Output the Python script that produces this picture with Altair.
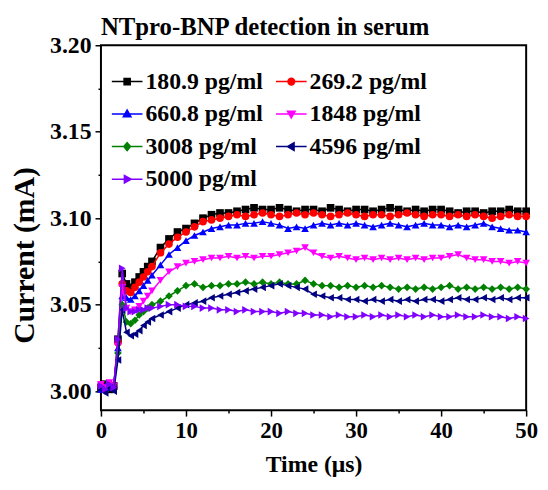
import altair as alt
import pandas as pd

time_us = [0, 0.5, 1, 1.5, 2, 2.5, 3, 3.5, 4, 4.5, 5, 5.5, 6,
           7, 8, 9, 10, 11, 12, 13, 14, 15, 16, 17, 18, 19, 20,
           21, 22, 23, 24, 25, 26, 27, 28, 29, 30, 31, 32, 33, 34, 35,
           36, 37, 38, 39, 40, 41, 42, 43, 44, 45, 46, 47, 48, 49, 50]

series_names = ["180.9 pg/ml", "269.2 pg/ml", "660.8 pg/ml", "1848 pg/ml",
                "3008 pg/ml", "4596 pg/ml", "5000 pg/ml"]

s_180 = [3.002, 3.004, 3.001, 3.003, 3.030, 3.068, 3.062, 3.060, 3.063, 3.066, 3.069, 3.072, 3.075,
         3.083, 3.088, 3.092, 3.094, 3.097, 3.100, 3.102, 3.103, 3.103, 3.104, 3.105, 3.106, 3.105, 3.105,
         3.106, 3.105, 3.104, 3.105, 3.105, 3.104, 3.106, 3.105, 3.104, 3.105, 3.105, 3.104, 3.105, 3.106, 3.105,
         3.104, 3.105, 3.104, 3.105, 3.105, 3.104, 3.103, 3.104, 3.104, 3.103, 3.104, 3.104, 3.105, 3.104, 3.104]
s_269 = [3.003, 3.001, 3.004, 3.002, 3.028, 3.062, 3.058, 3.057, 3.060, 3.063, 3.066, 3.069, 3.072,
         3.080, 3.085, 3.089, 3.092, 3.095, 3.098, 3.099, 3.100, 3.101, 3.102, 3.101, 3.102, 3.103, 3.102,
         3.101, 3.102, 3.103, 3.102, 3.103, 3.102, 3.101, 3.102, 3.103, 3.102, 3.101, 3.102, 3.102, 3.101, 3.102,
         3.103, 3.102, 3.101, 3.102, 3.102, 3.101, 3.102, 3.101, 3.102, 3.101, 3.100, 3.101, 3.102, 3.101, 3.101]
s_660 = [3.001, 3.003, 3.002, 3.004, 3.025, 3.055, 3.054, 3.053, 3.055, 3.058, 3.061, 3.064, 3.067,
         3.073, 3.079, 3.083, 3.087, 3.090, 3.092, 3.094, 3.095, 3.096, 3.096, 3.097, 3.097, 3.098, 3.097,
         3.096, 3.094, 3.095, 3.094, 3.096, 3.097, 3.096, 3.097, 3.096, 3.097, 3.096, 3.095, 3.096, 3.097, 3.096,
         3.095, 3.096, 3.097, 3.096, 3.096, 3.095, 3.096, 3.095, 3.096, 3.097, 3.095, 3.094, 3.093, 3.093, 3.092]
s_1848 = [3.004, 3.002, 3.005, 3.003, 3.026, 3.060, 3.048, 3.046, 3.047, 3.049, 3.052, 3.055, 3.058,
          3.064, 3.069, 3.072, 3.074, 3.075, 3.076, 3.077, 3.077, 3.078, 3.077, 3.078, 3.077, 3.078, 3.078,
          3.079, 3.080, 3.081, 3.083, 3.080, 3.078, 3.077, 3.078, 3.077, 3.076, 3.077, 3.076, 3.077, 3.076, 3.077,
          3.076, 3.077, 3.076, 3.077, 3.077, 3.078, 3.079, 3.077, 3.076, 3.076, 3.075, 3.075, 3.074, 3.075, 3.074]
s_3008 = [3.002, 3.000, 3.003, 3.001, 3.022, 3.050, 3.040, 3.039, 3.041, 3.044, 3.046, 3.048, 3.050,
          3.052, 3.055, 3.058, 3.061, 3.062, 3.060, 3.061, 3.061, 3.062, 3.062, 3.063, 3.062, 3.063, 3.062,
          3.063, 3.062, 3.062, 3.064, 3.062, 3.061, 3.061, 3.060, 3.061, 3.060, 3.061, 3.060, 3.061, 3.060, 3.059,
          3.060, 3.059, 3.060, 3.059, 3.060, 3.061, 3.059, 3.060, 3.059, 3.060, 3.059, 3.060, 3.059, 3.060, 3.059]
s_4596 = [3.001, 2.999, 3.002, 3.000, 3.018, 3.047, 3.034, 3.032, 3.033, 3.035, 3.038, 3.040, 3.042,
          3.044, 3.046, 3.048, 3.050, 3.051, 3.052, 3.054, 3.055, 3.056, 3.057, 3.058, 3.059, 3.060, 3.061,
          3.062, 3.061, 3.060, 3.059, 3.056, 3.055, 3.054, 3.054, 3.053, 3.053, 3.052, 3.053, 3.052, 3.053, 3.052,
          3.053, 3.052, 3.053, 3.053, 3.052, 3.053, 3.054, 3.053, 3.053, 3.054, 3.053, 3.054, 3.053, 3.054, 3.054]
s_5000 = [3.003, 3.001, 3.004, 3.002, 3.030, 3.071, 3.048, 3.046, 3.046, 3.047, 3.047, 3.048, 3.048,
          3.049, 3.050, 3.050, 3.049, 3.049, 3.048, 3.048, 3.047, 3.047, 3.046, 3.047, 3.046, 3.046, 3.046,
          3.045, 3.046, 3.045, 3.045, 3.044, 3.044, 3.043, 3.044, 3.043, 3.043, 3.044, 3.043, 3.044, 3.043, 3.044,
          3.043, 3.044, 3.043, 3.044, 3.043, 3.043, 3.044, 3.043, 3.043, 3.044, 3.043, 3.043, 3.042, 3.043, 3.042]

all_series = [s_180, s_269, s_660, s_1848, s_3008, s_4596, s_5000]

colors = ["#000000", "#FF0000", "#0000FF", "#FF00FF", "#008000", "#000080", "#8000FF"]
marker_shapes = ["square", "circle", "triangle-up", "triangle-down", "diamond",
                 "triangle-left", "triangle-right"]
# legend symbols: a short line with the marker in the middle
legend_shapes = [
    "M-1,0H1M-0.2,-0.2H0.2V0.2H-0.2Z",
    "M-1,0H1M0.22,0A0.22,0.22 0 1,1 -0.22,0A0.22,0.22 0 1,1 0.22,0Z",
    "M-1,0H1M0,-0.26L0.25,0.18L-0.25,0.18Z",
    "M-1,0H1M0,0.26L0.25,-0.18L-0.25,-0.18Z",
    "M-1,0H1M0,-0.26L0.22,0L0,0.26L-0.22,0Z",
    "M-1,0H1M-0.26,0L0.18,-0.25L0.18,0.25Z",
    "M-1,0H1M0.26,0L-0.18,-0.25L-0.18,0.25Z",
]

rows = []
for name, vals in zip(series_names, all_series):
    for t, v in zip(time_us, vals):
        rows.append({"t": t, "current": v, "series": name, "label": name})
df = pd.DataFrame(rows)

FONT = "Liberation Serif"

x_enc = alt.X(
    "t:Q",
    scale=alt.Scale(domain=[0, 50], nice=False),
    axis=alt.Axis(
        title="Time (μs)",
        values=[0, 5, 10, 15, 20, 25, 30, 35, 40, 45, 50],
        labelExpr="datum.value % 10 === 0 ? datum.label : ''",
        tickSize={"condition": {"test": "datum.value % 10 === 0", "value": 6}, "value": 3},
        grid=False, domain=False,
        labelFont=FONT, labelFontSize=23, labelFontWeight="bold", labelColor="black",
        labelPadding=4, labelFlush=False, labelOverlap=False,
        titleFont=FONT, titleFontSize=24, titleFontWeight="bold", titleColor="black",
        titlePadding=10, tickColor="black", tickWidth=1.5,
    ),
)
y_enc = alt.Y(
    "current:Q",
    scale=alt.Scale(domain=[2.989, 3.20], nice=False, zero=False),
    axis=alt.Axis(
        title="Current (mA)",
        values=[3.0, 3.025, 3.05, 3.075, 3.1, 3.125, 3.15, 3.175, 3.2],
        labelExpr="round(datum.value * 1000) % 50 === 0 ? format(datum.value, '.2f') : ''",
        tickSize={"condition": {"test": "round(datum.value * 1000) % 50 === 0", "value": 6}, "value": 3},
        grid=False, domain=False,
        labelFont=FONT, labelFontSize=24, labelFontWeight="bold", labelColor="black",
        labelPadding=4, labelFlush=False, labelOverlap=False,
        titleFont=FONT, titleFontSize=30, titleFontWeight="bold", titleColor="black",
        titleX=-77, titleY=212, titleBaseline="middle", titleAlign="center", titleAngle=270,
        tickColor="black", tickWidth=1.5,
    ),
)

# one line-with-markers layer per series, fixed colour and marker shape
series_layers = [
    alt.Chart(df).transform_filter(alt.datum.series == name).mark_line(
        color=col, strokeWidth=1.5,
        point=alt.OverlayMarkDef(filled=True, size=60, shape=shp, color=col, opacity=1),
    ).encode(x=x_enc, y=y_enc, order="t:Q")
    for name, shp, col in zip(series_names, marker_shapes, colors)
]

# legend-only layer: draws nothing (empty after filter); its explicit domains feed the legend
legend_layer = alt.Chart(df).transform_filter("false").mark_point(filled=False, strokeWidth=1.5).encode(
    x=x_enc, y=y_enc,
    stroke=alt.Stroke("label:N", scale=alt.Scale(domain=series_names, range=colors), title=None),
    fill=alt.Fill("label:N", scale=alt.Scale(domain=series_names, range=colors), title=None),
    shape=alt.Shape("label:N", scale=alt.Scale(domain=series_names, range=legend_shapes), title=None),
)

chart = alt.layer(*series_layers, legend_layer).properties(
    width=430, height=369,
    autosize=alt.AutoSizeParams(type="none"),
    padding={"left": 94, "top": 35, "right": 14, "bottom": 70},
    title=alt.TitleParams(
        "NTpro-BNP detection in serum", anchor="start", frame="group",
        font=FONT, fontSize=25, fontWeight="bold", color="black", offset=4, dy=11,
    ),
).configure_view(
    stroke="black", strokeWidth=2
).configure_legend(
    orient="none", legendX=10, legendY=20, direction="horizontal", columns=2,
    columnPadding=10, rowPadding=4, symbolSize=961, symbolStrokeWidth=1.5, symbolOpacity=1,
    labelFont=FONT, labelFontSize=24, labelFontWeight="bold", labelColor="black",
    labelOffset=2, labelLimit=300, padding=0,
)

chart.save("out.html", embed_options={"renderer": "svg", "actions": False})
